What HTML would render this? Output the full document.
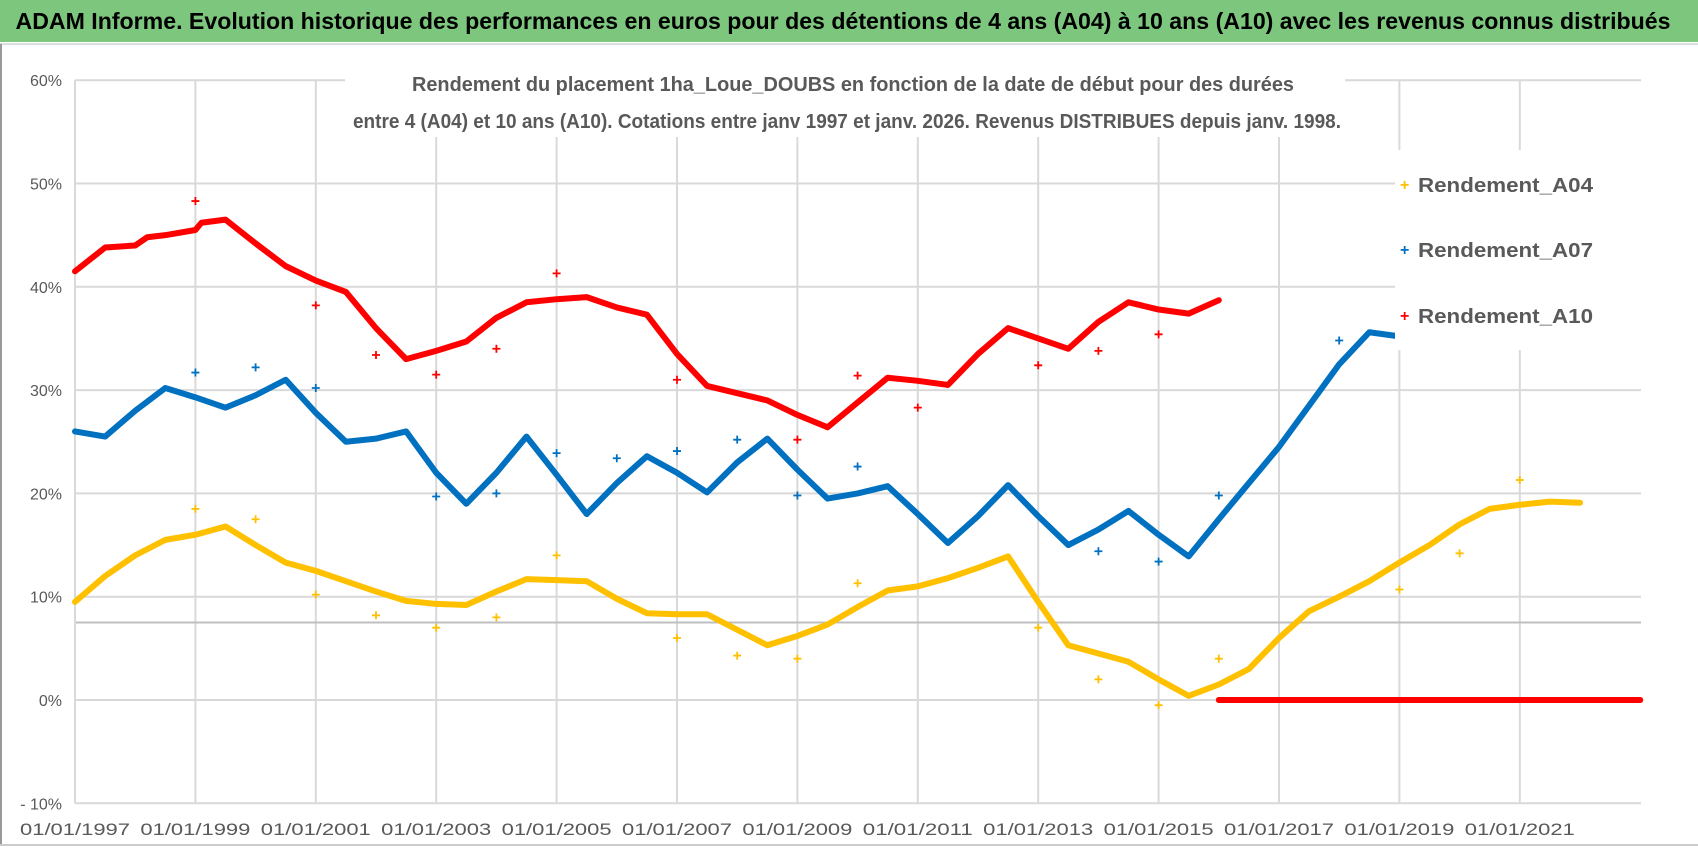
<!DOCTYPE html>
<html><head><meta charset="utf-8"><style>
body{margin:0;background:#fff;width:1698px;height:857px;overflow:hidden;font-family:"Liberation Sans",sans-serif}
</style></head><body>
<svg id="chart" width="1698" height="857" xmlns="http://www.w3.org/2000/svg">
<rect x="0" y="0" width="1698" height="857" fill="#fff"/>
<rect x="0" y="0" width="1698" height="42" fill="#7dc67d"/>
<line x1="0" y1="44" x2="1698" y2="44" stroke="#ddd" stroke-width="2"/>
<text x="843" y="29" text-anchor="middle" font-size="23" font-weight="bold" fill="#000" textLength="1655" lengthAdjust="spacingAndGlyphs">ADAM Informe. Evolution historique des performances en euros pour des détentions de 4 ans (A04) à 10 ans (A10) avec les revenus connus distribués</text>
<line x1="1" y1="44" x2="1" y2="845" stroke="#999" stroke-width="2"/>
<line x1="0" y1="845" x2="1698" y2="845" stroke="#ccc" stroke-width="2"/>
<g id="grid"></g>
<g id="series"></g>
<rect x="345" y="62" width="1000" height="75" fill="#fff"/>
<text x="853" y="91" text-anchor="middle" font-size="20" font-weight="bold" fill="#595959" textLength="882" lengthAdjust="spacingAndGlyphs">Rendement du placement 1ha_Loue_DOUBS en fonction de la date de début pour des durées</text>
<text x="847" y="128" text-anchor="middle" font-size="20" font-weight="bold" fill="#595959" textLength="988" lengthAdjust="spacingAndGlyphs">entre 4 (A04) et 10 ans (A10). Cotations entre janv 1997 et janv. 2026. Revenus DISTRIBUES depuis janv. 1998.</text>
<rect x="1395" y="150" width="275" height="200" fill="#fff"/>
<g font-size="20" font-weight="bold" fill="#595959">
<g><text x="1400" y="190" fill="#ffc000" font-size="16">+</text><text x="1418" y="192" textLength="175" lengthAdjust="spacingAndGlyphs">Rendement_A04</text></g>
<g><text x="1400" y="255" fill="#0070c0" font-size="16">+</text><text x="1418" y="257" textLength="175" lengthAdjust="spacingAndGlyphs">Rendement_A07</text></g>
<g><text x="1400" y="321" fill="#ff0000" font-size="16">+</text><text x="1418" y="323" textLength="175" lengthAdjust="spacingAndGlyphs">Rendement_A10</text></g>
</g>
</svg>
<script>
const yTicks=[60,50,40,30,20,10,0,-10];
const xTickYears=[1997,1999,2001,2003,2005,2007,2009,2011,2013,2015,2017,2019,2021];
const a04Years=[1997,1997.5,1998,1998.5,1999,1999.5,2000,2000.5,2001,2001.5,2002,2002.5,2003,2003.5,2004,2004.5,2005,2005.5,2006,2006.5,2007,2007.5,2008,2008.5,2009,2009.5,2010,2010.5,2011,2011.5,2012,2012.5,2013,2013.5,2014,2014.5,2015,2015.5,2016,2016.5,2017,2017.5,2018,2018.5,2019,2019.5,2020,2020.5,2021,2021.5,2022];
const a04Values=[9.5,12,14,15.5,16,16.8,15,13.3,12.5,11.5,10.5,9.6,9.3,9.2,10.5,11.7,11.6,11.5,9.8,8.4,8.3,8.3,6.8,5.3,6.2,7.3,9,10.6,11,11.8,12.8,13.9,9.5,5.3,4.5,3.7,2,0.4,1.5,3,6,8.6,10,11.5,13.3,15,17,18.5,18.9,19.2,19.1];
const a04OutYears=[1999,2000,2001,2002,2003,2004,2005,2007,2008,2009,2010,2013,2014,2015,2016,2019,2020,2021];
const a04OutValues=[18.5,17.5,10.2,8.2,7,8,14,6,4.3,4,11.3,7,2,-0.5,4,10.7,14.2,21.3];
const a07Years=[1997,1997.5,1998,1998.5,1999,1999.5,2000,2000.5,2001,2001.5,2002,2002.5,2003,2003.5,2004,2004.5,2005,2005.5,2006,2006.5,2007,2007.5,2008,2008.5,2009,2009.5,2010,2010.5,2011,2011.5,2012,2012.5,2013,2013.5,2014,2014.5,2015,2015.5,2016,2016.5,2017,2017.5,2018,2018.5,2019];
const a07Values=[26,25.5,28,30.2,29.3,28.3,29.5,31,27.8,25,25.3,26,22,19,22,25.5,21.8,18,21,23.6,22,20.1,23,25.3,22.3,19.5,20,20.7,18,15.2,17.8,20.8,17.8,15,16.5,18.3,16,13.9,17.5,21,24.5,28.5,32.5,35.6,35.2];
const a07OutYears=[1999,2000,2001,2003,2004,2005,2006,2007,2008,2009,2010,2014,2015,2016,2018];
const a07OutValues=[31.7,32.2,30.2,19.7,20,23.9,23.4,24.1,25.2,19.8,22.6,14.4,13.4,19.8,34.8];
const a10Years=[1997,1997.5,1998,1998.2,1998.5,1999,1999.1,1999.5,2000,2000.5,2001,2001.5,2002,2002.5,2003,2003.5,2004,2004.5,2005,2005.5,2006,2006.5,2007,2007.5,2008,2008.5,2009,2009.5,2010,2010.5,2011,2011.5,2012,2012.5,2013,2013.5,2014,2014.5,2015,2015.5,2016];
const a10Values=[41.5,43.8,44,44.8,45,45.5,46.2,46.5,44.2,42,40.6,39.5,36,33,33.8,34.7,37,38.5,38.8,39,38,37.3,33.5,30.4,29.7,29,27.6,26.4,28.8,31.2,30.9,30.5,33.5,36,35,34,36.6,38.5,37.8,37.4,38.7];
const a10ZeroYears=[2016,2023];
const a10ZeroValues=[0,0];
const a10OutYears=[1999,2001,2002,2003,2004,2005,2007,2009,2010,2011,2013,2014,2015];
const a10OutValues=[48.3,38.2,33.4,31.5,34,41.3,31,25.2,31.4,28.3,32.4,33.8,35.4];

const NS='http://www.w3.org/2000/svg';
const X0=75,PX_YEAR=60.2,Y0=700,PX_PCT=10.33,XEND=1641;
function xs(yr){return X0+(yr-1997)*PX_YEAR;}
function ys(v){return Y0-v*PX_PCT;}
function mk(tag,attrs,parent){const e=document.createElementNS(NS,tag);for(const k in attrs)e.setAttribute(k,attrs[k]);parent.appendChild(e);return e;}
const grid=document.getElementById('grid');
yTicks.forEach(t=>{
  const l=mk('line',{x1:X0,x2:XEND,y1:ys(t),y2:ys(t),stroke:'#d9d9d9','stroke-width':2},grid);
  
  
  const tx=mk('text',{x:62,y:ys(t)+6,'text-anchor':'end','font-size':16,fill:'#595959'},grid);
  tx.textContent=(t<0?'- '+(-t):t)+'%';
  
  
});
xTickYears.forEach(yr=>{
  const l=mk('line',{x1:xs(yr),x2:xs(yr),y1:ys(60),y2:ys(-10),stroke:'#d9d9d9','stroke-width':2},grid);
  
  
  const tx=mk('text',{x:xs(yr),y:835,'text-anchor':'middle','font-size':17,fill:'#595959',textLength:110,lengthAdjust:'spacingAndGlyphs'},grid);
  tx.textContent='01/01/'+yr;
  
  
});
const ref=mk('line',{x1:X0,x2:XEND,y1:ys(7.5),y2:ys(7.5),stroke:'#bfbfbf','stroke-width':2},grid);


const axis=mk('line',{x1:X0,x2:X0,y1:ys(60),y2:ys(-10),stroke:'#d9d9d9','stroke-width':2},grid);



const ser=document.getElementById('series');
function line(years,vals,color,name){
  const p=mk('polyline',{points:years.map((y,i)=>xs(y)+','+ys(vals[i])).join(' '),fill:'none',stroke:color,'stroke-width':6,'stroke-linejoin':'round','stroke-linecap':'round'},ser);
  
  
}
function outs(years,vals,color,name){
  years.forEach((y,i)=>{
    const cx=xs(y),cy=ys(vals[i]);
    const g=mk('path',{d:`M${cx-4},${cy}H${cx+4}M${cx},${cy-4}V${cy+4}`,stroke:color,'stroke-width':1.8},ser);
    
    
  });
}
line(a04Years,a04Values,'#ffc000','series-a04');
line([2022,2023],[0,0],'#ffc000','series-a04-tail');
line(a07Years,a07Values,'#0070c0','series-a07');
line(a10Years,a10Values,'#ff0000','series-a10');
line(a10ZeroYears,a10ZeroValues,'#ff0000','series-a10-zero');
outs(a04OutYears,a04OutValues,'#ffc000','a04-point');
outs(a07OutYears,a07OutValues,'#0070c0','a07-point');
outs(a10OutYears,a10OutValues,'#ff0000','a10-point');
</script>
</body></html>
